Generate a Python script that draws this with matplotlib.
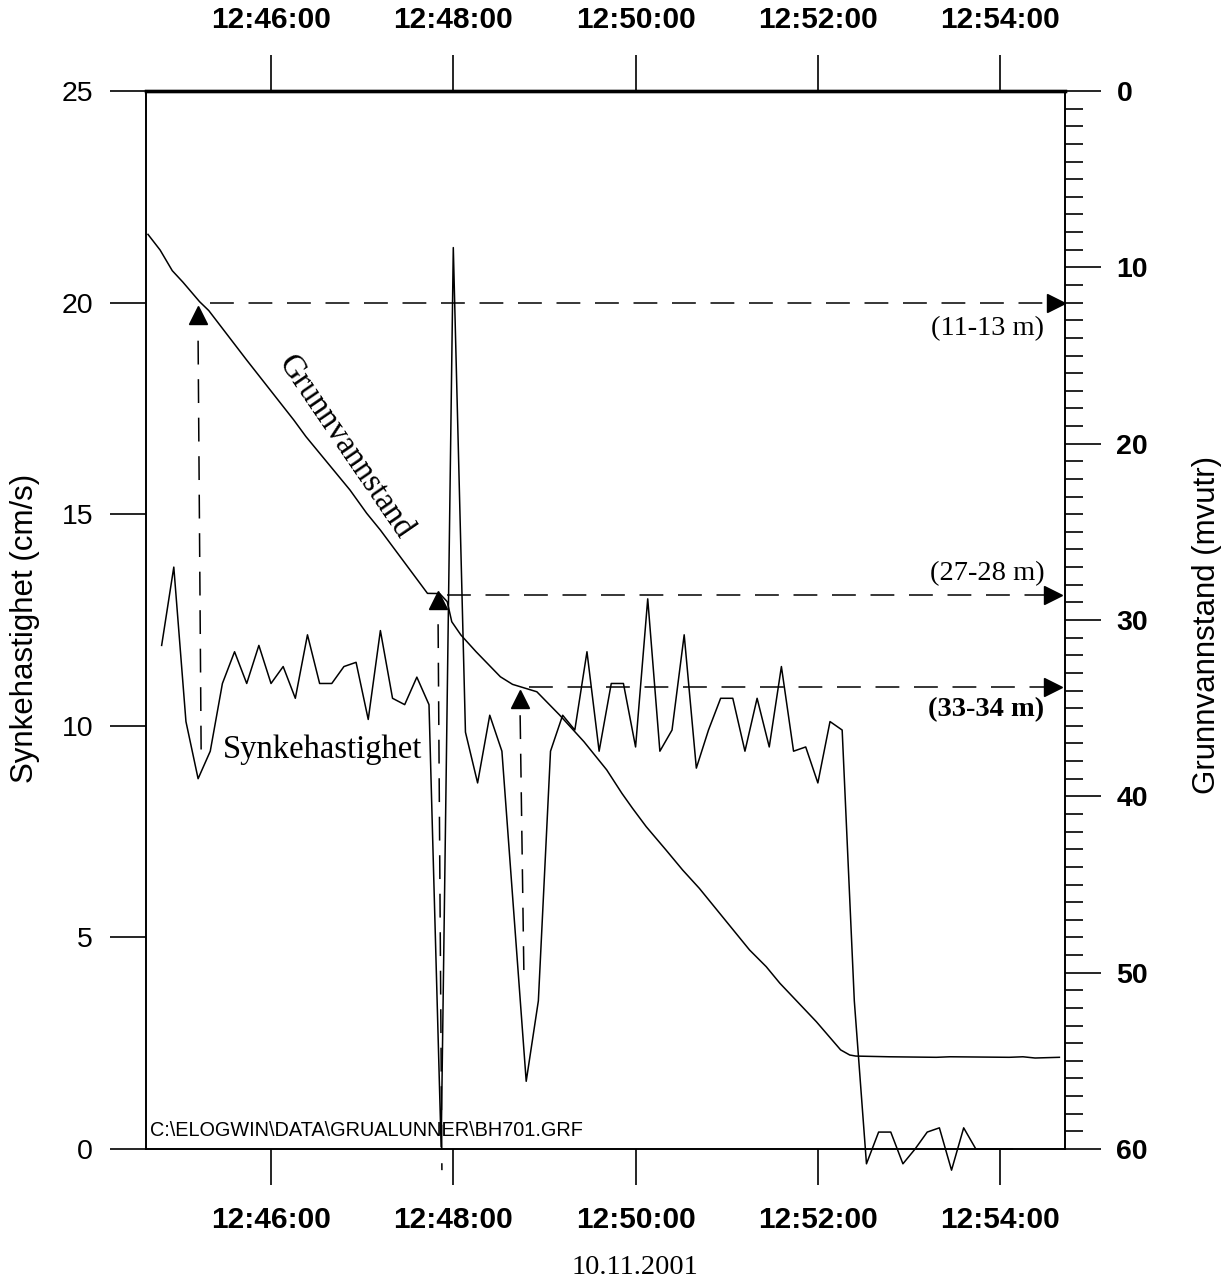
import matplotlib
matplotlib.use("Agg")
import matplotlib.pyplot as plt
import matplotlib.dates as mdates
import matplotlib.ticker as mticker
import pandas as pd

DAY = "2001-11-10 "

# ---- Synkehastighet (cm/s), left axis ----
speed_times = [
    "12:44:48", "12:44:56", "12:45:04", "12:45:12", "12:45:20", "12:45:28", "12:45:36", "12:45:44",
    "12:45:52", "12:46:00", "12:46:08", "12:46:16", "12:46:24", "12:46:32", "12:46:40", "12:46:48",
    "12:46:56", "12:47:04", "12:47:12", "12:47:20", "12:47:28", "12:47:36", "12:47:44", "12:47:52",
    "12:48:00", "12:48:08", "12:48:16", "12:48:24", "12:48:32", "12:48:40", "12:48:48", "12:48:56",
    "12:49:04", "12:49:12", "12:49:20", "12:49:28", "12:49:36", "12:49:44", "12:49:52", "12:50:00",
    "12:50:08", "12:50:16", "12:50:24", "12:50:32", "12:50:40", "12:50:48", "12:50:56", "12:51:04",
    "12:51:12", "12:51:20", "12:51:28", "12:51:36", "12:51:44", "12:51:52", "12:52:00", "12:52:08",
    "12:52:16", "12:52:24", "12:52:32", "12:52:40", "12:52:48", "12:52:56", "12:53:04", "12:53:12",
    "12:53:20", "12:53:28", "12:53:36", "12:53:44", "12:53:52", "12:54:00", "12:54:08",
]
speed_values = [
    11.9, 13.75, 10.1, 8.75, 9.4, 11.0, 11.75, 11.0, 11.9, 11.0, 11.4, 10.65, 12.15, 11.0, 11.0, 11.4,
    11.5, 10.15, 12.25, 10.65, 10.5, 11.15, 10.5, 0.05, 21.3, 9.85, 8.65, 10.25, 9.4, 5.5, 1.6, 3.5,
    9.4, 10.25, 9.9, 11.75, 9.4, 11.0, 11.0, 9.5, 13.0, 9.4, 9.9, 12.15, 9.0, 9.9, 10.65, 10.65,
    9.4, 10.65, 9.5, 11.4, 9.4, 9.5, 8.65, 10.1, 9.9, 3.5, -0.35, 0.4, 0.4, -0.35, 0.0, 0.4,
    0.5, -0.5, 0.5, 0.0, 0.0, 0.0, 0.0,
]

# ---- Grunnvannstand (mvutr), right axis (inverted) ----
gw_times = [
    "12:44:39", "12:44:47", "12:44:55", "12:45:02", "12:45:13", "12:45:19", "12:45:44", "12:46:15",
    "12:46:23", "12:46:52", "12:47:03", "12:47:12", "12:47:43", "12:47:51", "12:47:56", "12:47:59",
    "12:48:05", "12:48:15", "12:48:31", "12:48:39", "12:48:55", "12:49:10", "12:49:26", "12:49:41",
    "12:49:51", "12:49:58", "12:50:07", "12:50:20", "12:50:31", "12:50:42", "12:51:15", "12:51:26",
    "12:51:35", "12:51:59", "12:52:15", "12:52:21", "12:52:25", "12:52:47", "12:53:18", "12:53:27",
    "12:54:06", "12:54:15", "12:54:23", "12:54:39",
]
gw_values = [
    8.13, 9.02, 10.19, 10.84, 11.95, 12.45, 15.26, 18.66,
    19.6, 22.63, 23.95, 24.9, 28.49, 28.5, 28.96, 30.1,
    30.85, 31.8, 33.22, 33.65, 34.07, 35.39, 36.9, 38.5,
    39.83, 40.68, 41.72, 43.04, 44.18, 45.22, 48.71, 49.66,
    50.6, 52.78, 54.38, 54.67, 54.73, 54.77, 54.8, 54.77,
    54.8, 54.77, 54.84, 54.8,
]

# ---- annotation guides ----
tri_times = ["12:45:12", "12:47:50", "12:48:44"]
tri_levels = [19.7, 12.97, 10.63]               # cm/s (triangle markers)
vline_top_times = ["12:45:12", "12:47:50", "12:48:44"]
vline_bot_times = ["12:45:14", "12:47:52.5", "12:48:46.5"]
vline_top = [19.1, 12.4, 10.25]
vline_bot = [9.4, -0.5, 4.1]
hline_depths = [12.0, 28.6, 33.8]               # mvutr
hline_start = ["12:45:20", "12:47:56", "12:48:50"]
arrow_times = ["12:54:37", "12:54:35", "12:54:35"]
depth_labels = ["(11-13 m)", "(27-28 m)", "(33-34 m)"]
depth_label_pos = [13.5, 27.35, 35.1]
depth_label_bold = [False, False, True]

xticks = ["12:46:00", "12:48:00", "12:50:00", "12:52:00", "12:54:00"]
xlim = ["12:44:37.7", "12:54:42.7"]


def T(lst):
    return pd.to_datetime([DAY + s for s in lst], format="mixed").to_pydatetime()


SERIF = "Liberation Serif"
SANS = "Liberation Sans"

W, H = 1227, 1286
fig = plt.figure(figsize=(W / 100, H / 100), dpi=100)
L, R, B, TP = 146, 1065, 1149, 91
ax = fig.add_axes([L / W, 1 - B / H, (R - L) / W, (B - TP) / H])
ax2 = ax.twinx()

dash = (0, (15.6, 9.6))
lw = 1.1

ax.plot(T(speed_times), speed_values, color="black", lw=lw, clip_on=False, zorder=3)
ax2.plot(T(gw_times), gw_values, color="black", lw=lw, clip_on=False, zorder=3)

# vertical guides with up triangles
for tt, lv, t0, t1, y0, y1 in zip(T(tri_times), tri_levels, T(vline_top_times), T(vline_bot_times), vline_top, vline_bot):
    ax.plot([t0, t1], [y0, y1], color="black", lw=lw, linestyle=dash, clip_on=False)
    ax.plot([tt], [lv], marker="^", ms=13, color="black", mec="black", clip_on=False)

# horizontal guides with right arrows
for d, ts, ta in zip(hline_depths, T(hline_start), T(arrow_times)):
    ax2.plot([ts, ta], [d, d], color="black", lw=lw, linestyle=dash)
    ax2.plot([ta], [d], marker=">", ms=13, color="black", clip_on=False)

xend = T(["12:54:29"])[0]
for lab, pos, bold in zip(depth_labels, depth_label_pos, depth_label_bold):
    ax2.text(xend, pos, lab, ha="right", va="center", fontsize=20.5, family=SERIF,
             fontweight="bold" if bold else "normal")

ax2.text(T(["12:46:49"])[0], 20.2, "Grunnvannstand", rotation=-55.6, rotation_mode="anchor",
         ha="center", va="center", fontsize=23.5, family=SERIF)
ax.text(T(["12:46:34"])[0], 9.43, "Synkehastighet", ha="center", va="center",
        fontsize=23.5, family=SERIF)

ax.text(0.004, 0.012, "C:\\ELOGWIN\\DATA\\GRUALUNNER\\BH701.GRF", transform=ax.transAxes,
        ha="left", va="baseline", fontsize=14.3, family=SANS)

# limits
ax.set_xlim(T(xlim))
ax.set_ylim(0, 25)
ax2.set_ylim(60, 0)

# x ticks top & bottom
ax.set_xticks(T(xticks))
ax.xaxis.set_major_formatter(mdates.DateFormatter("%H:%M:%S"))
ax.tick_params(axis="x", which="major", top=True, bottom=True, labeltop=True, labelbottom=True,
               direction="out", length=26, width=1.2, pad=15, labelsize=21.5)
for lbl in ax.get_xticklabels():
    lbl.set_fontweight("bold")
    lbl.set_family(SANS)

ax.set_yticks([0, 5, 10, 15, 20, 25])
ax.tick_params(axis="y", direction="out", length=26, width=1.2, pad=12, labelsize=20.5)
for lbl in ax.get_yticklabels():
    lbl.set_family(SANS)

ax2.yaxis.set_major_locator(mticker.MultipleLocator(10))
ax2.yaxis.set_minor_locator(mticker.MultipleLocator(1))
ax2.tick_params(axis="y", which="major", direction="out", length=26, width=1.2, pad=11, labelsize=20.5)
ax2.tick_params(axis="y", which="minor", direction="out", length=13, width=1.2)
for lbl in ax2.get_yticklabels():
    lbl.set_fontweight("bold")
    lbl.set_family(SANS)

for a in (ax, ax2):
    for s in a.spines.values():
        s.set_linewidth(1.2)
ax.spines["top"].set_linewidth(2.4)
ax2.spines["top"].set_linewidth(2.4)

fig.text(25 / W, 1 - 628 / H, "Synkehastighet (cm/s)", rotation=90, ha="center", va="center",
         fontsize=22.5, family=SANS)
fig.text(1207 / W, 1 - 625 / H, "Grunnvannstand (mvutr)", rotation=90, ha="center", va="center",
         fontsize=22.5, family=SANS)
fig.text(635 / W, 1 - 1268 / H, "10.11.2001", ha="center", va="center", fontsize=20.5, family=SERIF)

fig.savefig("out.png", dpi=100)
